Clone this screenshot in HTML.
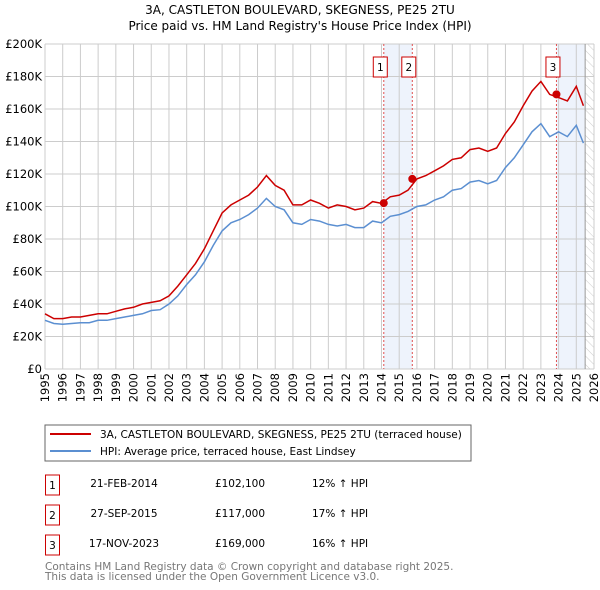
<!DOCTYPE html>
<html><head><meta charset="utf-8"><style>
body{margin:0;width:600px;height:590px;background:#fff;font-family:"DejaVu Sans","Liberation Sans",sans-serif;overflow:hidden}
svg{position:absolute;left:0;top:0}
</style></head><body>
<svg width="600" height="590" font-family="DejaVu Sans, Liberation Sans, sans-serif">
<defs><pattern id="hatch" width="6" height="6" patternUnits="userSpaceOnUse" patternTransform="rotate(-45)"><line x1="0" y1="0" x2="0" y2="6" stroke="#ccc" stroke-width="1"/></pattern></defs>
<text x="300" y="14" text-anchor="middle" font-size="12">3A, CASTLETON BOULEVARD, SKEGNESS, PE25 2TU</text>
<text x="300" y="30" text-anchor="middle" font-size="12">Price paid vs. HM Land Registry's House Price Index (HPI)</text>
<g id="plot"></g>
<rect x="45" y="425" width="426" height="36" fill="#fff" stroke="#666"/>
<line x1="50" y1="434" x2="91" y2="434" stroke="#cc0000" stroke-width="2"/>
<text x="100" y="438" font-size="10.5">3A, CASTLETON BOULEVARD, SKEGNESS, PE25 2TU (terraced house)</text>
<line x1="50" y1="451" x2="91" y2="451" stroke="#5b8fd1" stroke-width="2"/>
<text x="100" y="455" font-size="10.5">HPI: Average price, terraced house, East Lindsey</text>
<g font-size="10.5">
<rect x="45.5" y="475" width="14" height="20" fill="none" stroke="#cc0000"/><text x="52.5" y="489" text-anchor="middle">1</text>
<text x="124" y="487" text-anchor="middle">21-FEB-2014</text><text x="240" y="487" text-anchor="middle">£102,100</text><text x="312" y="487">12% ↑ HPI</text>
<rect x="45.5" y="505" width="14" height="20" fill="none" stroke="#cc0000"/><text x="52.5" y="519" text-anchor="middle">2</text>
<text x="124" y="517" text-anchor="middle">27-SEP-2015</text><text x="240" y="517" text-anchor="middle">£117,000</text><text x="312" y="517">17% ↑ HPI</text>
<rect x="45.5" y="535" width="14" height="20" fill="none" stroke="#cc0000"/><text x="52.5" y="549" text-anchor="middle">3</text>
<text x="124" y="547" text-anchor="middle">17-NOV-2023</text><text x="240" y="547" text-anchor="middle">£169,000</text><text x="312" y="547">16% ↑ HPI</text>
</g>
<text x="45" y="570" font-size="10.5" fill="#777">Contains HM Land Registry data © Crown copyright and database right 2025.</text>
<text x="45" y="580" font-size="10.5" fill="#777">This data is licensed under the Open Government Licence v3.0.</text>
</svg>
<script>
const years=[1995,1995.5,1996,1996.5,1997,1997.5,1998,1998.5,1999,1999.5,2000,2000.5,2001,2001.5,2002,2002.5,2003,2003.5,2004,2004.5,2005,2005.5,2006,2006.5,2007,2007.5,2008,2008.5,2009,2009.5,2010,2010.5,2011,2011.5,2012,2012.5,2013,2013.5,2014,2014.5,2015,2015.5,2016,2016.5,2017,2017.5,2018,2018.5,2019,2019.5,2020,2020.5,2021,2021.5,2022,2022.5,2023,2023.5,2024,2024.5,2025,2025.4];
const hpiValues=[30,28,27.5,28,28.5,28.5,30,30,31,32,33,34,36,36.5,40,45,52,58,66,76,85,90,92,95,99,105,100,98,90,89,92,91,89,88,89,87,87,91,90,94,95,97,100,101,104,106,110,111,115,116,114,116,124,130,138,146,151,143,146,143,150,139];
const priceValues=[34,31,31,32,32,33,34,34,35.5,37,38,40,41,42,45,51,58,65,74,85,96,101,104,107,112,119,113,110,101,101,104,102,99,101,100,98,99,103,102,106,107,110,117,119,122,125,129,130,135,136,134,136,145,152,162,171,177,169,167,165,174,162];
const saleDates=[2014.13,2015.74,2023.88];
const salePrices=[102.1,117,169];
const saleLabels=["1","2","3"];
const yTicks=[0,20,40,60,80,100,120,140,160,180,200];
const yTickLabels=["£0","£20K","£40K","£60K","£80K","£100K","£120K","£140K","£160K","£180K","£200K"];
const xTicks=[];for(let y=1995;y<=2026;y++)xTicks.push(y);

const X0=45,X1=594,Y0=369,Y1=44;
const xs=t=>X0+(t-1995)/(2026-1995)*(X1-X0);
const ys=v=>Y0-v/200*(Y0-Y1);
const NS="http://www.w3.org/2000/svg";
const g=document.getElementById('plot');
function mk(tag,attrs,name){const e=document.createElementNS(NS,tag);for(const k in attrs)e.setAttribute(k,attrs[k]);


g.appendChild(e);return e;}
mk('rect',{x:xs(saleDates[0]),y:Y1,width:xs(saleDates[1])-xs(saleDates[0]),height:Y0-Y1,fill:'#eef3fc'},'shade-sales-1-2');
mk('rect',{x:xs(saleDates[2]),y:Y1,width:xs(2025.5)-xs(saleDates[2]),height:Y0-Y1,fill:'#eef3fc'},'shade-sale-3');
mk('rect',{x:xs(2025.5),y:Y1,width:X1-xs(2025.5),height:Y0-Y1,fill:'url(#hatch)'},'future-hatch');
xTicks.forEach((t,i)=>{mk('line',{x1:xs(t),x2:xs(t),y1:Y1,y2:Y0,stroke:'#ccc','stroke-width':1},'x-grid-line');
const x=xs(t)+4,y=Y0+4;
const tx=mk('text',{x:x,y:y,'text-anchor':'end','font-size':'11.5',transform:'rotate(-90 '+x+' '+y+')'},'x-tick-label');tx.textContent=t;});
yTicks.forEach((v,i)=>{mk('line',{x1:X0,x2:X1,y1:ys(v),y2:ys(v),stroke:'#ccc','stroke-width':1},'y-grid-line');
const tx=mk('text',{x:X0-3,y:ys(v)+4,'text-anchor':'end','font-size':'11.5'},'y-tick-label');tx.textContent=yTickLabels[i];});
mk('line',{x1:xs(2025.5),x2:xs(2025.5),y1:Y1,y2:Y0,stroke:'#999','stroke-width':1},'today-line');
saleDates.forEach(d=>mk('line',{x1:xs(d),x2:xs(d),y1:Y1,y2:Y0,stroke:'#e05050','stroke-width':1,'stroke-dasharray':'2,2'},'sale-vline'));
const path=v=>years.map((t,i)=>(i?'L':'M')+xs(t).toFixed(1)+','+ys(v[i]).toFixed(1)).join('');
mk('path',{d:path(hpiValues),fill:'none',stroke:'#5b8fd1','stroke-width':1.5},'hpi-line');
mk('path',{d:path(priceValues),fill:'none',stroke:'#cc0000','stroke-width':1.5},'price-line');
saleDates.forEach((d,i)=>{mk('circle',{cx:xs(d),cy:ys(salePrices[i]),r:4,fill:'#cc0000'},'sale-point-'+(i+1));
const bx=xs(d)-3.5;
mk('rect',{x:bx-7,y:57,width:14,height:20,fill:'#fff',stroke:'#cc0000'},'sale-marker-box-'+(i+1));
const tx=mk('text',{x:bx,y:71,'text-anchor':'middle','font-size':'10.5'},'sale-marker-label-'+(i+1));tx.textContent=saleLabels[i];});
</script>
</body></html>
